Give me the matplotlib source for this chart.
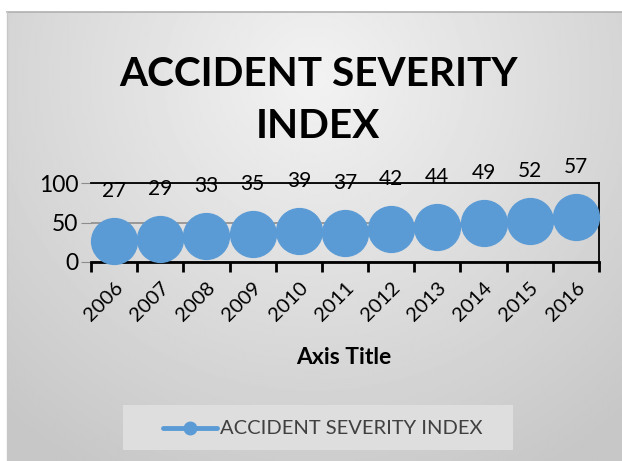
import numpy as np
import matplotlib
matplotlib.use("Agg")
import matplotlib.pyplot as plt

years = ["2006", "2007", "2008", "2009", "2010", "2011", "2012", "2013", "2014", "2015", "2016"]
values = [27, 29, 33, 35, 39, 37, 42, 44, 49, 52, 57]
title = "ACCIDENT SEVERITY\nINDEX"
series_name = "ACCIDENT SEVERITY INDEX"
x_title = "Axis Title"
yticks = [0, 50, 100]

W, H = 622, 461
fig = plt.figure(figsize=(W / 100, H / 100), dpi=100)
fig.patch.set_facecolor("white")

# background gradient panel
bg = fig.add_axes([7 / W, 0, (W - 7) / W, (H - 12) / H])
yy, xx = np.mgrid[0:1:300j, 0:1:400j]
d = np.sqrt(((xx - 0.5) / 0.75) ** 2 + ((yy - 0.85) / 1.0) ** 2)
img = 0.95 - 0.17 * np.clip(d, 0, 1)
bg.imshow(img, cmap="gray", vmin=0, vmax=1, aspect="auto", extent=[0, 1, 0, 1], origin="lower")
bg.set_xlim(0, 1)
bg.set_ylim(0, 1)
bg.axis("off")
fig.add_artist(plt.Line2D([7 / W, 1], [(H - 12) / H] * 2, color="#b0b0b0", lw=1.2))
fig.add_artist(plt.Line2D([7 / W] * 2, [0, (H - 12) / H], color="#c8c8c8", lw=1.0))

fnt = "Lato"
ax = fig.add_axes([91 / W, (H - 262) / H, 508 / W, 79 / H])
ax.patch.set_alpha(0)
x = np.arange(len(years))
ax.plot(x, values, color="#5b9bd5", lw=3, marker="o", markersize=33, zorder=3, clip_on=False)
for xi, v in zip(x, values):
    ax.annotate(str(v), (xi, v), xytext=(0, 36), textcoords="offset points", ha="center",
                va="center", fontsize=15, family=fnt, color="black", zorder=4)
ax.set_xlim(-0.5, len(years) - 0.5)
ax.set_ylim(0, 100)
ax.set_yticks(yticks)
ax.set_yticklabels([str(t) for t in yticks], fontsize=16.5, family=fnt)
ax.yaxis.grid(True, color="#8c8c8c", lw=1.2, zorder=0)
ax.tick_params(axis="y", length=7, color="#8c8c8c", pad=2)
ax.set_xticks(x)
ax.set_xticklabels(years, rotation=45, ha="right", rotation_mode="anchor", fontsize=14.5, family=fnt)
ax.tick_params(axis="x", length=0, pad=12)
ax.set_xticks(np.arange(len(years) + 1) - 0.5, minor=True)
ax.tick_params(axis="x", which="minor", length=7, width=2, color="black")
for s in ["top", "right"]:
    ax.spines[s].set_color("black")
    ax.spines[s].set_linewidth(1.3)
ax.spines["left"].set_visible(False)
ax.spines["bottom"].set_color("black")
ax.spines["bottom"].set_linewidth(2)
ax.set_axisbelow(True)

fig.text(318 / W, 1 - 101 / H, title, ha="center", va="center", fontsize=29.2, fontweight="bold",
         family=fnt, linespacing=1.5)
fig.text(344 / W, 1 - 357 / H, x_title, ha="center", va="center", fontsize=16.5, fontweight="bold", family=fnt)

# legend
lax = fig.add_axes([123 / W, (H - 450) / H, 390 / W, 45 / H])
lax.set_xlim(0, 390)
lax.set_ylim(0, 45)
lax.axis("off")
lax.add_patch(plt.Rectangle((0, 0), 390, 45, facecolor="#dedede", edgecolor="none"))
lax.plot([40, 94], [22, 22], color="#5b9bd5", lw=3.5, solid_capstyle="round")
lax.plot([67], [22], marker="o", color="#5b9bd5", markersize=9)
lax.text(97, 22, series_name, ha="left", va="center", fontsize=14.5, family=fnt, color="#404040")

fig.savefig("out.png", dpi=100)
